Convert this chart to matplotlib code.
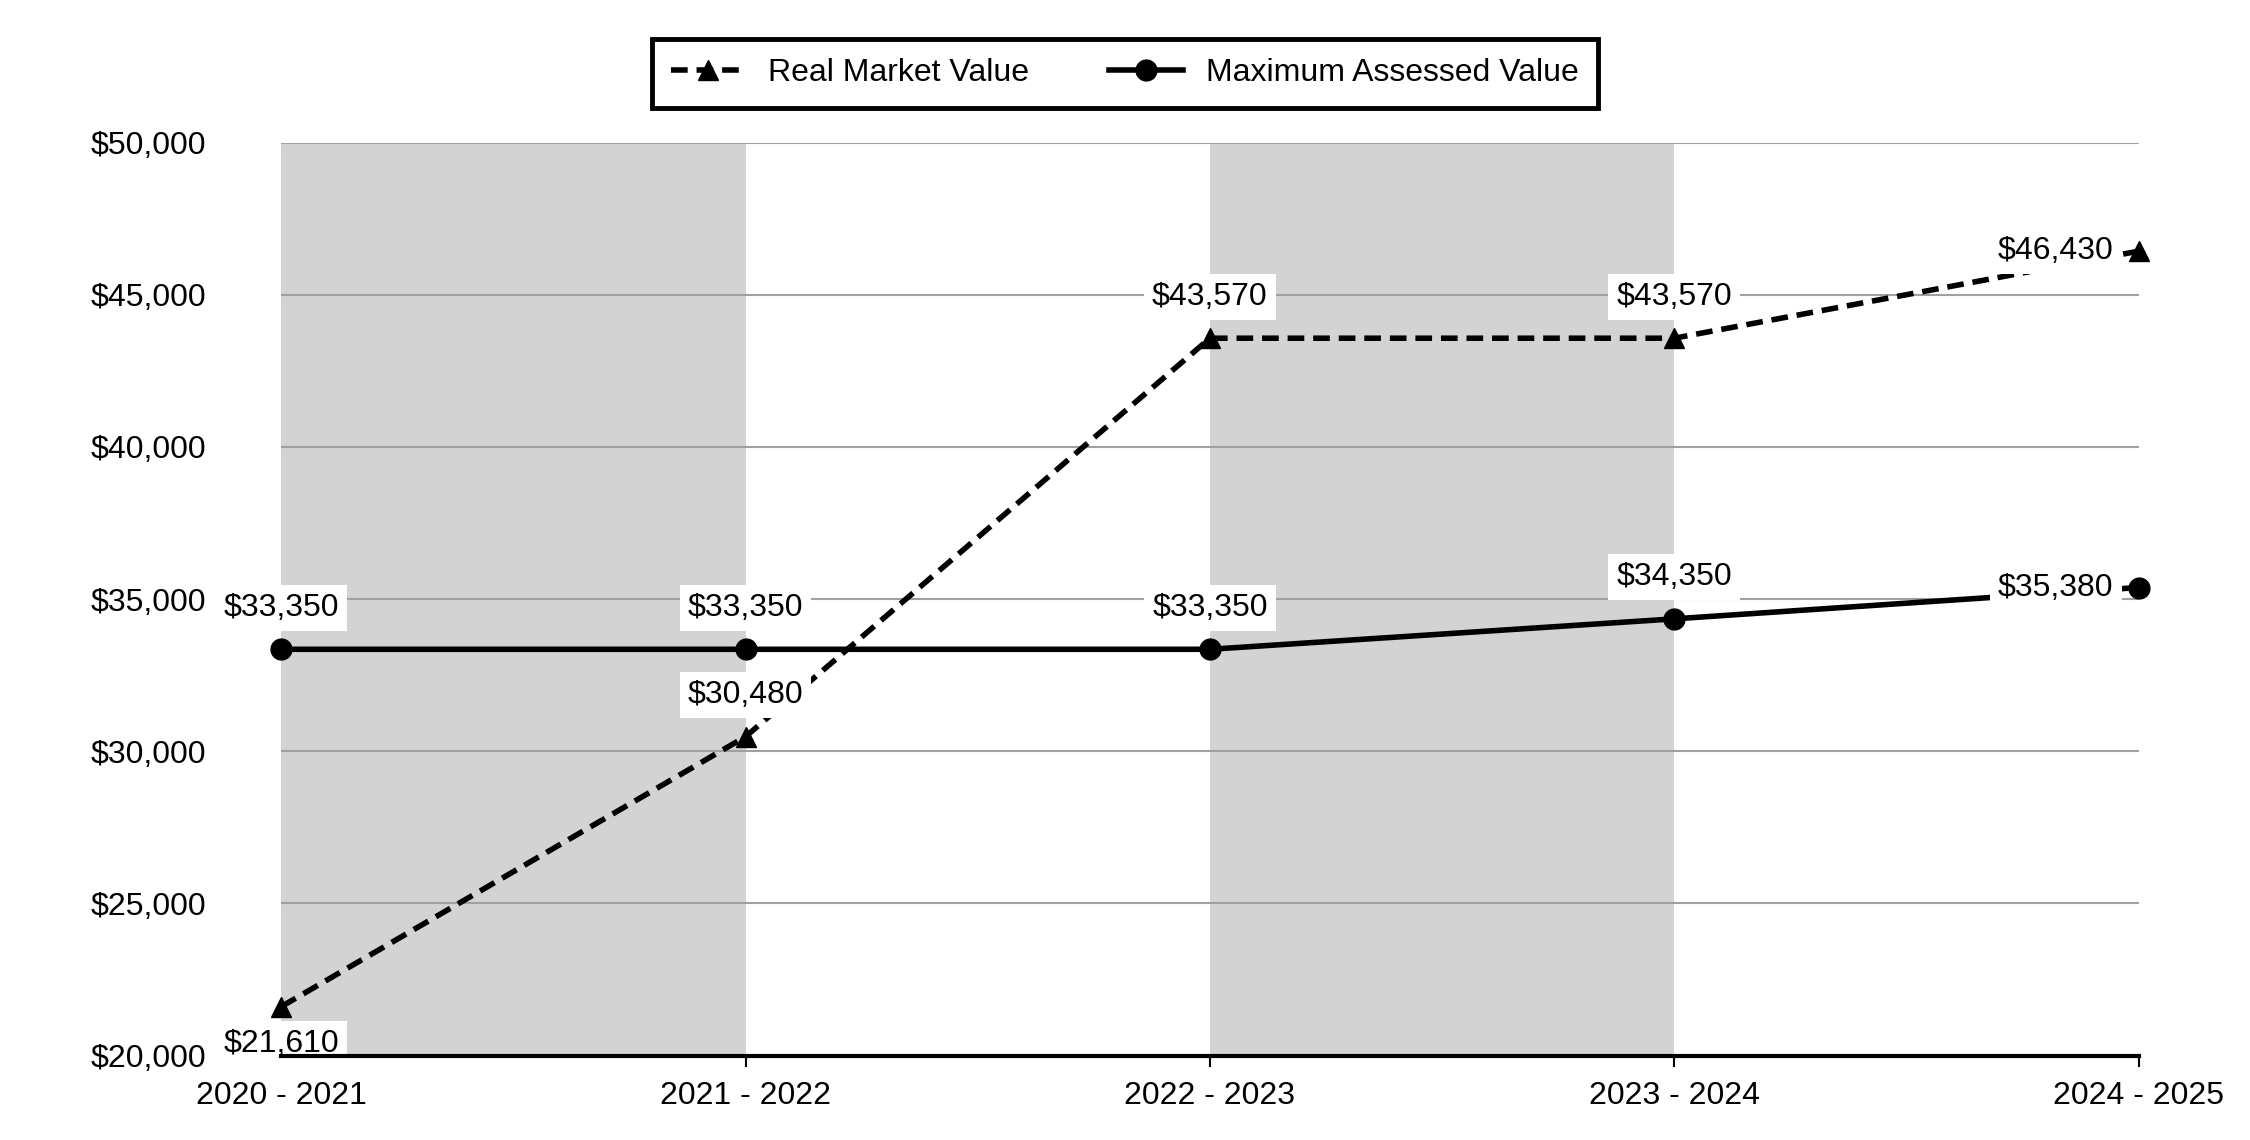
import matplotlib.pyplot as plt
from matplotlib.ticker import FuncFormatter

plt.rcParams['font.family'] = ['Liberation Sans', 'DejaVu Sans']

years = ['2020 - 2021', '2021 - 2022', '2022 - 2023', '2023 - 2024', '2024 - 2025']
real_market = [21610, 30480, 43570, 43570, 46430]
max_assessed = [33350, 33350, 33350, 34350, 35380]

# where each label sits relative to its point (points offset)
rmv_offsets = [(0, -27), (0, 30), (0, 30), (0, 30), (-18, 0)]
mav_offsets = [(0, 30), (0, 30), (0, 30), (0, 30), (-18, 0)]


def main():
    fig = plt.figure(figsize=(22.5, 11.4), dpi=100)
    ax = fig.add_axes([0.125, 0.074, 0.8255, 0.801])
    x = list(range(len(years)))

    # shaded bands behind every other year
    ax.axvspan(0, 1, color='#d3d3d3', lw=0, zorder=0)
    ax.axvspan(2, 3, color='#d3d3d3', lw=0, zorder=0)

    ax.plot(x, real_market, color='black', ls=(0, (3, 1.6)), lw=4,
            marker='^', ms=15, label='Real Market Value', clip_on=False, zorder=3)
    ax.plot(x, max_assessed, color='black', ls='-', lw=4,
            marker='o', ms=15, label='Maximum Assessed Value', clip_on=False, zorder=3)

    for series, offs in ((real_market, rmv_offsets), (max_assessed, mav_offsets)):
        for i, v in enumerate(series):
            dx, dy = offs[i]
            ha = 'right' if dx < 0 else 'center'
            ax.annotate('${:,}'.format(v), (i, v), xytext=(dx, dy), textcoords='offset points',
                        ha=ha, va='center', fontsize=23, zorder=4,
                        bbox=dict(boxstyle='square,pad=0.25', fc='white', ec='none'))

    ax.set_xlim(0, 4)
    ax.set_ylim(20000, 50000)
    ax.set_yticks(range(20000, 50001, 5000))
    ax.yaxis.set_major_formatter(FuncFormatter(lambda v, p: '${:,.0f}'.format(v)))
    ax.set_xticks(x)
    ax.set_xticklabels(years)
    ax.tick_params(axis='y', length=0, labelsize=23, pad=54)
    ax.tick_params(axis='x', length=8, width=1.5, labelsize=23, pad=10)

    ax.grid(axis='y', color='#a0a0a0', lw=1.5, zorder=1)
    ax.set_axisbelow(True)
    for s in ('left', 'right', 'top'):
        ax.spines[s].set_visible(False)
    ax.spines['bottom'].set_linewidth(3)
    ax.spines['bottom'].set_zorder(5)

    leg = fig.legend(loc='upper center', bbox_to_anchor=(0.5, 0.974), ncol=2, fontsize=23,
                     frameon=True, fancybox=False, edgecolor='black', handlelength=2.3,
                     columnspacing=2.5, borderpad=0.6, handletextpad=0.75, borderaxespad=0.3)
    leg.get_frame().set_linewidth(3.5)
    leg.get_frame().set_alpha(1)

    fig.savefig('out.png', dpi=100)


if __name__ == '__main__':
    main()
